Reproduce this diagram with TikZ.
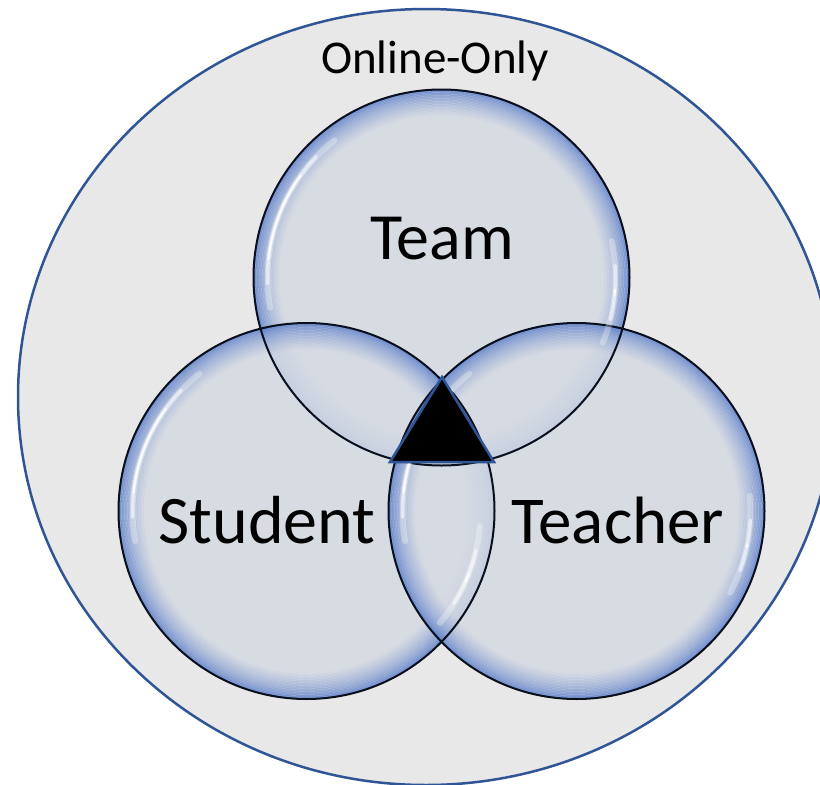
\documentclass[tikz,border=0pt]{standalone}
\usepackage{fontspec}
\setmainfont{Carlito}
\definecolor{bgc}{HTML}{E8E8E8}
\definecolor{ringc}{HTML}{2F5597}
\definecolor{bin}{HTML}{D5DAE3}
\definecolor{bdark}{HTML}{4C72C6}
\definecolor{olc}{HTML}{0A0F1E}
\tikzset{
  bubbleline/.style={draw=olc, line width=2},
  hlwide/.style={white, line cap=round, opacity=0.3, line width=6},
  hlmid/.style={white, line cap=round, opacity=0.55, line width=3.5},
  hlthin/.style={white, line cap=round, opacity=0.9, line width=1.8},
  lab/.style={anchor=base, text=black, inner sep=0pt},
}
\newcommand\bubble[1]{%
  \fill[bin, opacity=0.85] (#1) circle[radius=161];
  \foreach \i in {0,...,17}{%
    \pgfmathsetmacro\rr{188-(\i+0.5)*1.5}%
    \pgfmathsetmacro\pp{100*((\i+0.5)/18)^0.65}%
    \draw[draw=bin!\pp!bdark, line width=1.55, opacity=0.85] (#1) circle[radius=\rr];
  }%
}
\newcommand\hlarc[3]{%
  \pgfmathsetmacro\hA{#2}\pgfmathsetmacro\hB{#3}%
  \pgfmathsetmacro\hAm{#2+8}\pgfmathsetmacro\hBm{#3-8}%
  \pgfmathsetmacro\hAt{#2+16}\pgfmathsetmacro\hBt{#3-16}%
  \draw[hlwide] (#1) ++(\hA:174) arc[start angle=\hA, end angle=\hB, radius=174];
  \draw[hlmid] (#1) ++(\hAm:174) arc[start angle=\hAm, end angle=\hBm, radius=174];
  \draw[hlthin] (#1) ++(\hAt:174) arc[start angle=\hAt, end angle=\hBt, radius=174];
}
\begin{document}
\begin{tikzpicture}[x=1pt, y=-1pt]
\useasboundingbox (0,0) rectangle (820,785);
\fill[white] (0,0) rectangle (820,785);
\begin{scope}
  \clip (0,0) rectangle (820,785);
  \draw[fill=bgc, draw=ringc, line width=2.5] (426,397) ellipse[x radius=408, y radius=388];
\end{scope}
\coordinate (T) at (441.5,277.5);
\coordinate (S) at (306.5,511);
\coordinate (C) at (576.5,511);
\bubble{T}
\bubble{S}
\bubble{C}
\draw[bubbleline] (T) circle[radius=188];
\draw[bubbleline] (S) circle[radius=188];
\draw[bubbleline] (C) circle[radius=188];
\hlarc{T}{170}{232}
\hlarc{S}{170}{232}
\hlarc{C}{170}{232}
\hlarc{T}{-12}{22}
\hlarc{S}{5}{40}
\hlarc{C}{-5}{28}
\coordinate (ta) at (442,377);
\coordinate (tb) at (390,462);
\coordinate (tc) at (494,462);
\draw[fill=black, draw=ringc, line width=2.5, line join=miter] (ta) -- (tb) -- (tc) -- cycle;
\node[lab, font=\fontsize{47}{50}\selectfont] (online) at (435,73) {Online-Only};
\node[lab, font=\fontsize{66}{70}\selectfont] (team) at (442,259) {Team};
\node[lab, font=\fontsize{68}{72}\selectfont] (student) at (267,543) {Student};
\node[lab, font=\fontsize{67}{72}\selectfont] (teacher) at (618,543) {Teacher};
\end{tikzpicture}
\end{document}
